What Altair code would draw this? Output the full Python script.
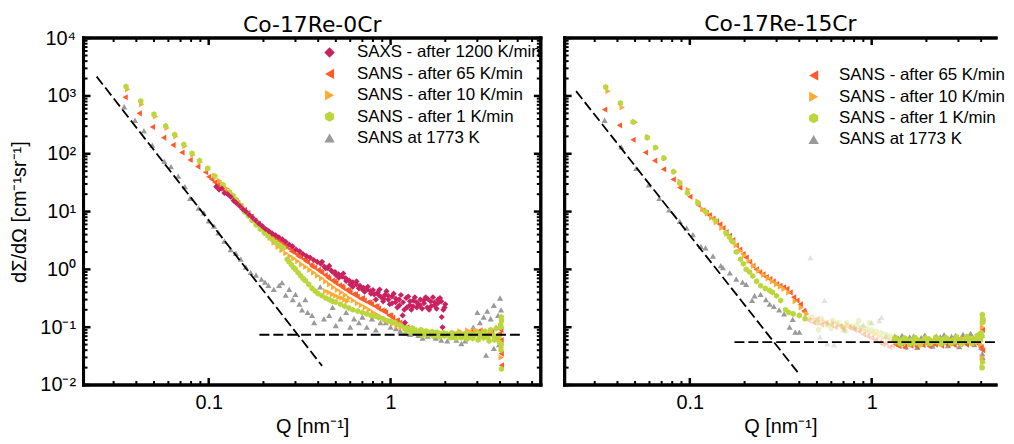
import altair as alt
import pandas as pd

# ---------------- series names, colours, shapes ----------------
SERIES = ["SAXS - after 1200 K/min", "SANS - after 65 K/min", "SANS - after 10 K/min",
          "SANS - after 1 K/min", "SANS at 1773 K"]
COLORS = ["#C9235F", "#FF5B2A", "#FFAA33", "#BCD63E", "#9A9A9A"]
HEXAGON = "M0,-1L0.866,-0.5L0.866,0.5L0,1L-0.866,0.5L-0.866,-0.5Z"
SHAPES = ["diamond", "triangle-left", "triangle-right", HEXAGON, "triangle-up"]

TITLES = ["Co-17Re-0Cr", "Co-17Re-15Cr"]
X_TITLE = "Q [nm⁻¹]"
Y_TITLE = "dΣ/dΩ [cm⁻¹sr⁻¹]"
X_MAJOR = [0.1, 1]
X_MINOR = [0.03, 0.04, 0.05, 0.06, 0.07, 0.08, 0.09, 0.2, 0.3, 0.4, 0.5, 0.6, 0.7, 0.8, 0.9, 2, 3, 4, 5, 6]
Y_MAJOR = [0.01, 0.1, 1, 10, 100, 1000, 10000]
Y_MINOR = [0.02, 0.03, 0.04, 0.05, 0.06, 0.07, 0.08, 0.09,
           0.2, 0.3, 0.4, 0.5, 0.6, 0.7, 0.8, 0.9,
           2, 3, 4, 5, 6, 7, 8, 9,
           20, 30, 40, 50, 60, 70, 80, 90,
           200, 300, 400, 500, 600, 700, 800, 900,
           2000, 3000, 4000, 5000, 6000, 7000, 8000, 9000]
Y_LABELS = ["10⁻²", "10⁻¹", "10⁰", "10¹", "10²", "10³", "10⁴"]
X_DOMAIN_0 = [0.0205, 6.7]
X_DOMAIN_15 = [0.0205, 4.83]
Y_DOMAIN = [0.01, 10000]

# ---------------- Co-17Re-0Cr ----------------
q_saxs_0 = [0.110, 0.114, 0.118, 0.122, 0.127, 0.132, 0.137, 0.142, 0.148, 0.154,
            0.160, 0.167, 0.174, 0.181, 0.189, 0.197, 0.205, 0.214, 0.223, 0.233,
            0.243, 0.254, 0.265, 0.277, 0.289, 0.302, 0.316, 0.330, 0.345, 0.361,
            0.378, 0.395, 0.413, 0.432, 0.452, 0.473, 0.495, 0.518, 0.542, 0.567,
            0.593, 0.620, 0.649, 0.679, 0.710, 0.743, 0.777, 0.813, 0.850, 0.889,
            0.930, 0.973, 1.018, 1.065, 1.114, 1.165, 1.219, 1.275, 1.334, 1.395,
            1.459, 1.526, 1.596, 1.670, 1.747, 1.827, 1.911, 1.999,
            0.83, 0.87, 0.91, 0.95, 0.99, 1.04, 1.09, 1.14, 1.19, 1.25,
            1.30, 1.36, 1.42, 1.49, 1.56, 1.63, 1.71, 1.79, 1.87, 1.95, 1.20, 1.93,
            0.42, 0.46, 0.50, 0.55, 0.60, 0.65, 0.70, 0.75,
            0.44, 0.48, 0.52, 0.57, 0.62, 0.67, 0.72, 0.78, 0.80, 0.86,
            0.92, 0.97, 1.02, 1.07, 1.12, 1.17, 1.23, 1.28, 1.33, 1.39,
            1.45, 1.52, 1.59, 1.66, 1.74, 1.82, 1.90, 1.98]
i_saxs_0 = [27, 24, 25, 21, 20, 18, 15.5, 14, 12.5, 11,
            10, 8.8, 7.9, 7.0, 6.2, 5.6, 5.0, 4.6, 4.2, 3.9,
            3.6, 3.3, 3.0, 2.7, 2.5, 2.2, 2.05, 1.85, 1.7, 1.6,
            1.45, 1.35, 1.25, 1.12, 1.05, 0.95, 0.9, 0.82, 0.75, 0.7,
            0.64, 0.6, 0.55, 0.52, 0.48, 0.45, 0.42, 0.37, 0.4, 0.33,
            0.36, 0.3, 0.34, 0.27, 0.3, 0.16, 0.32, 0.24, 0.29, 0.22,
            0.3, 0.26, 0.31, 0.23, 0.27, 0.3, 0.15, 0.25,
            0.3, 0.45, 0.28, 0.42, 0.25, 0.38, 0.22, 0.36, 0.2, 0.34,
            0.2, 0.33, 0.25, 0.21, 0.33, 0.2, 0.33, 0.21, 0.32, 0.2, 0.12, 0.1,
            1.35, 1.15, 0.8, 0.85, 0.55, 0.62, 0.45, 0.5,
            1.05, 0.9, 0.72, 0.63, 0.5, 0.47, 0.41, 0.38, 0.44, 0.36,
            0.31, 0.35, 0.26, 0.31, 0.24, 0.27, 0.22, 0.28, 0.23, 0.27,
            0.24, 0.29, 0.22, 0.28, 0.24, 0.26, 0.28, 0.22]

q_r65_0 = [0.0347, 0.0415, 0.049, 0.0565, 0.0636, 0.0712, 0.079, 0.087, 0.096,
           0.100, 0.104, 0.108, 0.112, 0.117, 0.122, 0.127, 0.132, 0.138, 0.144,
           0.150, 0.157, 0.164, 0.171, 0.179, 0.187, 0.195, 0.204, 0.213, 0.223,
           0.233, 0.244, 0.255, 0.267, 0.279, 0.292, 0.305, 0.319, 0.334, 0.349,
           0.365, 0.382, 0.400, 0.418, 0.437, 0.457, 0.478, 0.500, 0.523, 0.547,
           0.572, 0.598, 0.626, 0.655, 0.685, 0.716, 0.749, 0.784, 0.820, 0.858,
           0.897, 0.938, 0.981, 1.026, 1.073, 1.122, 1.174,
           1.23, 1.29, 1.35, 1.42, 1.49, 1.56, 1.64, 1.72, 1.81, 1.9,
           2.0, 2.1, 2.2, 2.31, 2.43, 2.55, 2.68, 2.81, 2.95, 3.1,
           3.26, 3.42, 3.6, 3.78, 3.97, 4.05, 4.07, 4.06, 4.04,
           0.26, 0.285, 0.31, 0.34, 0.37, 0.41, 0.45, 0.49, 0.54, 0.59,
           0.64, 0.70, 0.77, 0.84, 0.92, 1.0, 1.09]
i_r65_0 = [950, 500, 290, 190, 141, 105, 78, 60, 48,
           40, 36, 32, 29, 26, 23, 20, 18, 16, 14,
           12.5, 10.7, 9.4, 8.2, 7.0, 6.2, 5.4, 4.8, 4.3, 3.8,
           3.4, 3.1, 2.8, 2.5, 2.25, 2.0, 1.82, 1.65, 1.5, 1.35,
           1.2, 1.08, 0.98, 0.88, 0.8, 0.7, 0.64, 0.58, 0.53, 0.48,
           0.44, 0.4, 0.37, 0.34, 0.31, 0.29, 0.27, 0.25, 0.23, 0.21,
           0.195, 0.18, 0.16, 0.145, 0.13, 0.12, 0.11,
           0.1, 0.092, 0.088, 0.085, 0.082, 0.08, 0.078, 0.08, 0.076, 0.078,
           0.075, 0.077, 0.074, 0.078, 0.072, 0.08, 0.076, 0.085, 0.078, 0.088,
           0.08, 0.075, 0.082, 0.07, 0.078, 0.06, 0.022, 0.035, 0.09,
           2.5, 2.05, 1.7, 1.4, 1.12, 0.92, 0.74, 0.62, 0.51, 0.44,
           0.37, 0.32, 0.27, 0.23, 0.19, 0.16, 0.13]

q_o10_0 = [0.0358, 0.0428, 0.051, 0.059, 0.066, 0.074, 0.082, 0.090, 0.099, 0.108,
           0.115, 0.12, 0.126, 0.132, 0.139, 0.146, 0.153, 0.161, 0.169, 0.178,
           0.187, 0.197, 0.207, 0.218, 0.229, 0.241, 0.253, 0.266, 0.28, 0.294,
           0.309, 0.325, 0.342, 0.36, 0.378, 0.397, 0.418, 0.44, 0.462, 0.486,
           0.511, 0.537, 0.565, 0.594, 0.625, 0.657, 0.691, 0.727, 0.764, 0.804,
           0.845, 0.889, 0.935, 0.983, 1.034, 1.087, 1.143, 1.2,
           0.44, 0.46, 0.48, 0.5, 0.52, 0.54, 0.56, 0.58,
           1.25, 1.31, 1.38, 1.45, 1.53, 1.61, 1.69, 1.78, 1.87, 1.97,
           2.07, 2.18, 2.29, 2.41, 2.53, 2.66, 2.8, 2.94, 3.09, 3.25,
           3.42, 3.59, 3.77, 3.95, 4.05, 4.06, 4.07]
i_o10_0 = [1300, 720, 440, 280, 200, 135, 95, 72, 54, 42,
           34, 30, 25, 21, 17.5, 14.5, 12, 10, 8.4, 7,
           5.9, 5, 4.2, 3.5, 2.9, 2.45, 2.15, 1.9, 1.7, 1.55,
           1.38, 1.22, 1.1, 0.98, 0.88, 0.78, 0.7, 0.62, 0.55, 0.49,
           0.44, 0.4, 0.36, 0.32, 0.29, 0.26, 0.24, 0.22, 0.2, 0.18,
           0.165, 0.15, 0.135, 0.125, 0.115, 0.105, 0.1, 0.095,
           0.42, 0.4, 0.37, 0.35, 0.33, 0.32, 0.3, 0.28,
           0.09, 0.085, 0.083, 0.08, 0.078, 0.076, 0.079, 0.074, 0.077, 0.072,
           0.075, 0.07, 0.078, 0.085, 0.076, 0.088, 0.08, 0.09, 0.082, 0.086,
           0.075, 0.08, 0.07, 0.065, 0.1, 0.03, 0.045]

q_g1_0 = [0.0351, 0.0423, 0.050, 0.058, 0.065, 0.073, 0.081, 0.089, 0.099, 0.108, 0.12,
          0.13, 0.136, 0.142, 0.149, 0.157, 0.165, 0.173, 0.182, 0.192, 0.202,
          0.212, 0.223, 0.234, 0.246, 0.258,
          0.27, 0.277, 0.285, 0.293, 0.30, 0.31, 0.32, 0.33, 0.34, 0.355,
          0.37, 0.385, 0.40, 0.42, 0.44, 0.46, 0.48, 0.5, 0.53, 0.56,
          0.59, 0.62, 0.66, 0.7, 0.74, 0.78, 0.82, 0.86, 0.91, 0.96,
          1.01, 1.06, 1.12, 1.18,
          1.20, 1.24, 1.28, 1.32, 1.37, 1.42, 1.47, 1.52, 1.57, 1.63,
          1.69, 1.75, 1.81, 1.88, 1.95, 2.02, 2.09, 2.17, 2.25, 2.33,
          2.41, 2.50, 2.59, 2.68, 2.78, 2.88, 2.98, 3.09, 3.20, 3.31,
          3.43, 3.55, 3.68, 3.81, 3.94, 4.05,
          1.22, 1.30, 1.40, 1.50, 1.60, 1.72, 1.85, 1.98, 2.13, 2.29,
          2.45, 2.63, 2.83, 3.03, 3.25, 3.48, 3.72, 3.97, 4.06, 4.07,
          4.06, 4.05, 4.07, 4.03]
i_g1_0 = [1450, 815, 480, 303, 215, 145, 102, 76, 56, 41, 29,
          22, 19, 16, 13, 10, 8.5, 7, 5.9, 5, 4.3,
          3.8, 3.3, 2.9, 2.6, 2.35,
          1.5, 1.35, 1.2, 1.08, 1.0, 0.88, 0.78, 0.7, 0.64, 0.55,
          0.47, 0.42, 0.38, 0.35, 0.32, 0.3, 0.28, 0.27, 0.25, 0.23,
          0.215, 0.2, 0.19, 0.18, 0.17, 0.16, 0.155, 0.148, 0.14, 0.13,
          0.125, 0.12, 0.11, 0.105,
          0.1, 0.095, 0.09, 0.097, 0.088, 0.085, 0.09, 0.082, 0.086, 0.08,
          0.084, 0.078, 0.082, 0.076, 0.08, 0.077, 0.074, 0.08, 0.072, 0.078,
          0.075, 0.07, 0.078, 0.068, 0.076, 0.072, 0.08, 0.07, 0.078, 0.085,
          0.068, 0.09, 0.072, 0.095, 0.07, 0.1,
          0.085, 0.08, 0.078, 0.072, 0.075, 0.07, 0.068, 0.07, 0.066, 0.064,
          0.066, 0.062, 0.064, 0.06, 0.065, 0.058, 0.06, 0.055, 0.05, 0.13,
          0.15, 0.04, 0.019, 0.11]

q_hot_0 = [0.0343, 0.0393, 0.0440, 0.0489, 0.057, 0.062, 0.068, 0.074, 0.079, 0.088,
           0.094, 0.1, 0.107, 0.113, 0.122, 0.132, 0.141, 0.15, 0.16, 0.17,
           0.182, 0.195, 0.204, 0.213, 0.228, 0.244, 0.253, 0.265, 0.277, 0.29,
           0.30, 0.315, 0.326, 0.34, 0.35, 0.37, 0.38, 0.41, 0.43, 0.46,
           0.48, 0.50, 0.53, 0.57, 0.6, 0.63, 0.67, 0.7, 0.74, 0.79,
           0.83, 0.88, 0.94, 1.0, 1.07, 1.13, 1.2, 1.28, 1.36, 1.42,
           1.5, 1.6, 1.7, 1.77, 1.9, 2.05, 2.15, 2.3, 2.45, 2.57,
           2.73, 2.85, 3.0, 3.1, 3.25, 3.4, 3.55, 3.7, 3.8, 3.9,
           4.0, 4.05, 3.35, 3.7, 3.95]
i_hot_0 = [650, 380, 250, 141, 74, 60, 41, 27, 17, 11.5,
           9.5, 6.9, 5.6, 4.3, 3.1, 2.2, 1.9, 1.5, 1.1, 0.89,
           0.8, 0.68, 0.6, 0.53, 0.45, 0.53, 0.59, 0.36, 0.45, 0.3,
           0.37, 0.25, 0.2, 0.3, 0.18, 0.16, 0.12, 0.5, 0.14, 0.16,
           0.22, 0.107, 0.14, 0.18, 0.1, 0.14, 0.12, 0.15, 0.1, 0.14,
           0.09, 0.12, 0.12, 0.1, 0.095, 0.086, 0.08, 0.075, 0.085, 0.072,
           0.065, 0.07, 0.075, 0.065, 0.06, 0.058, 0.068, 0.06, 0.052, 0.058,
           0.075, 0.1, 0.18, 0.12, 0.15, 0.19, 0.14, 0.24, 0.1, 0.16,
           0.32, 0.2, 0.033, 0.043, 0.05]

line_id = ["porod", "porod", "background", "background"]
q_lines_0 = [0.0242, 0.42, 0.19, 5.3]
i_lines_0 = [2160, 0.0214, 0.074, 0.074]

# ---------------- Co-17Re-15Cr ----------------
q_r65_15 = [0.034, 0.041, 0.0487, 0.057, 0.064, 0.0717, 0.081, 0.088, 0.1, 0.111,
            0.118, 0.123, 0.128, 0.134, 0.14, 0.146, 0.152, 0.158, 0.165, 0.172,
            0.18, 0.188, 0.196, 0.204, 0.213, 0.222, 0.232, 0.242, 0.252, 0.263,
            0.275, 0.287, 0.3, 0.313, 0.327, 0.341, 0.356, 0.372, 0.388, 0.405,
            0.423,
            0.45, 0.48, 0.5, 0.53, 0.56, 0.6, 0.63, 0.67, 0.7, 0.75,
            0.8, 0.85, 0.9, 0.95, 1.0, 1.05, 1.1, 1.15, 1.2, 1.25, 1.3,
            1.36, 1.41, 1.46, 1.52, 1.58, 1.64, 1.7, 1.77, 1.84, 1.91,
            1.99, 2.07, 2.15, 2.24, 2.33, 2.42, 2.52, 2.62, 2.73, 2.84,
            2.95, 3.07, 3.19, 3.32, 3.45, 3.59, 3.73, 3.88, 4.0, 4.07,
            4.08, 4.06]
i_r65_15 = [580, 310, 175, 105, 76, 54, 36, 26, 18, 13,
            10.5, 9.5, 8.6, 7.6, 6.8, 6.0, 5.2, 4.4, 3.8, 3.2,
            2.6, 2.2, 1.85, 1.6, 1.35, 1.15, 1.0, 0.9, 0.82, 0.74,
            0.68, 0.62, 0.56, 0.52, 0.49, 0.46, 0.4, 0.33, 0.29, 0.25,
            0.19,
            0.13, 0.12, 0.14, 0.11, 0.12, 0.11, 0.1, 0.105, 0.095, 0.1,
            0.09, 0.085, 0.075, 0.07, 0.065, 0.06, 0.055, 0.05, 0.052, 0.045, 0.048,
            0.05, 0.047, 0.052, 0.045, 0.05, 0.048, 0.053, 0.046, 0.051, 0.049,
            0.054, 0.047, 0.052, 0.05, 0.055, 0.048, 0.053, 0.05, 0.056, 0.049,
            0.054, 0.051, 0.057, 0.05, 0.055, 0.052, 0.058, 0.05, 0.045, 0.04,
            0.13, 0.09]

q_o10_15 = [0.0355, 0.0425, 0.0503, 0.0588, 0.0654, 0.0726, 0.0824, 0.0885, 0.098, 0.111,
            0.118, 0.125, 0.132, 0.14, 0.15, 0.16, 0.17, 0.18, 0.19, 0.2,
            0.212, 0.225, 0.24, 0.255, 0.27, 0.285, 0.3, 0.315, 0.33, 0.35,
            0.38, 0.41, 0.44,
            0.46, 0.49, 0.52, 0.55, 0.58, 0.62, 0.66, 0.7, 0.74, 0.78,
            0.83, 0.88, 0.93, 0.98, 1.04, 1.1, 1.16, 1.22, 1.28,
            1.34, 1.39, 1.44, 1.5, 1.56, 1.62, 1.68, 1.75, 1.82, 1.89,
            1.97, 2.05, 2.13, 2.22, 2.31, 2.4, 2.5, 2.6, 2.71, 2.82,
            2.93, 3.05, 3.17, 3.3, 3.43, 3.57, 3.71, 3.86, 3.98, 4.06,
            4.07, 4.08, 4.07]
i_o10_15 = [1210, 630, 350, 197, 126, 84, 49, 33, 24, 15,
            11, 9.3, 7.8, 6.5, 5.2, 4.1, 3.3, 2.6, 2.1, 1.75,
            1.4, 1.15, 0.95, 0.8, 0.7, 0.62, 0.55, 0.5, 0.46, 0.4,
            0.28, 0.22, 0.17,
            0.14, 0.13, 0.12, 0.125, 0.115, 0.12, 0.11, 0.105, 0.11, 0.1,
            0.095, 0.09, 0.085, 0.08, 0.075, 0.07, 0.065, 0.062, 0.058,
            0.06, 0.055, 0.058, 0.052, 0.057, 0.054, 0.059, 0.053, 0.058, 0.055,
            0.06, 0.054, 0.058, 0.056, 0.061, 0.055, 0.059, 0.057, 0.062, 0.055,
            0.06, 0.058, 0.063, 0.056, 0.061, 0.059, 0.064, 0.057, 0.05, 0.03,
            0.02, 0.025, 0.1]

q_g1_15 = [0.0345, 0.0415, 0.0487, 0.0583, 0.0647, 0.072, 0.0814, 0.088, 0.097, 0.111,
           0.122, 0.138, 0.158,
           0.165, 0.172, 0.18, 0.19, 0.197, 0.204, 0.213, 0.222, 0.233, 0.245,
           0.26, 0.275, 0.285, 0.3, 0.316, 0.336, 0.35, 0.37, 0.40, 0.43,
           0.47, 0.5, 0.53, 0.57, 0.61, 0.65, 0.69, 0.73, 0.78, 0.83,
           0.88, 0.94, 1.0, 1.06, 1.13, 1.2, 1.27, 0.51, 0.6, 0.72,
           0.85, 0.97,
           1.33, 1.37, 1.41, 1.45, 1.5, 1.55, 1.6, 1.65, 1.7, 1.76,
           1.82, 1.88, 1.94, 2.0, 2.07, 2.14, 2.21, 2.28, 2.36, 2.44,
           2.52, 2.6, 2.69, 2.78, 2.87, 2.97, 3.07, 3.17, 3.28, 3.39,
           3.5, 3.62, 3.74, 3.86, 3.97, 4.05,
           1.35, 1.43, 1.52, 1.62, 1.73, 1.85, 1.97, 2.1, 2.25, 2.4,
           2.56, 2.73, 2.92, 3.12, 3.33, 3.56, 3.8, 4.0, 4.06, 4.07,
           4.06, 4.07, 4.05]
i_g1_15 = [1420, 750, 355, 190, 128, 84, 49, 31, 21, 14,
           10, 7, 4.3,
           3.6, 3.0, 2.0, 1.5, 1.25, 1.0, 0.9, 0.77, 0.62, 0.52,
           0.47, 0.43, 0.40, 0.35, 0.29, 0.2, 0.18, 0.17, 0.16, 0.14,
           0.15, 0.12, 0.14, 0.11, 0.13, 0.12, 0.1, 0.12, 0.105, 0.11,
           0.1, 0.095, 0.09, 0.085, 0.08, 0.075, 0.07, 0.09, 0.095, 0.085,
           0.13, 0.12,
           0.058, 0.062, 0.056, 0.06, 0.055, 0.061, 0.057, 0.06, 0.054, 0.062,
           0.058, 0.055, 0.06, 0.057, 0.062, 0.055, 0.059, 0.056, 0.062, 0.058,
           0.055, 0.061, 0.057, 0.06, 0.056, 0.063, 0.058, 0.055, 0.062, 0.058,
           0.064, 0.057, 0.062, 0.066, 0.06, 0.07,
           0.066, 0.052, 0.065, 0.051, 0.066, 0.05, 0.065, 0.052, 0.067, 0.051,
           0.066, 0.052, 0.068, 0.051, 0.069, 0.052, 0.072, 0.08, 0.165, 0.14,
           0.12, 0.025, 0.02]

q_hot_15 = [0.034, 0.042, 0.0507, 0.0595, 0.068, 0.077, 0.088, 0.096, 0.104, 0.115,
            0.122, 0.134, 0.148, 0.152, 0.166, 0.18, 0.195, 0.204, 0.22, 0.227,
            0.245, 0.262, 0.275, 0.29, 0.31, 0.33, 0.354, 0.368, 0.38, 0.40,
            0.43, 0.46, 0.52, 0.55, 0.57, 0.62, 0.7, 0.8, 0.9, 1.0,
            1.1, 1.13, 1.2,
            1.34, 1.4, 1.47, 1.54, 1.62, 1.7, 1.78, 1.87, 1.96, 2.06,
            2.16, 2.27, 2.38, 2.5, 2.62, 2.75, 2.89, 3.03, 3.18, 3.34,
            3.5, 3.67, 3.85, 4.0, 4.06, 4.07]
i_hot_15 = [380, 132, 56, 29, 17, 10.7, 6.8, 5.2, 4.0, 2.5,
            2.35, 1.7, 1.16, 1.07, 0.87, 0.68, 0.6, 0.55, 0.29, 0.35,
            0.37, 0.3, 0.25, 0.23, 0.2, 0.17, 0.1, 0.137, 0.082, 0.082,
            0.2, 1.6, 0.068, 0.29, 0.052, 0.05, 0.09, 0.1, 0.11, 0.12,
            0.13, 0.148, 0.07,
            0.07, 0.065, 0.072, 0.046, 0.068, 0.07, 0.045, 0.066, 0.073, 0.064,
            0.047, 0.07, 0.068, 0.074, 0.048, 0.069, 0.072, 0.046, 0.075, 0.07,
            0.078, 0.05, 0.076, 0.045, 0.035, 0.03]

q_lines_15 = [0.0237, 0.397, 0.176, 4.83]
i_lines_15 = [1210, 0.0158, 0.055, 0.055]

FONT = "Liberation Sans"
H = 349


def table(parts):
    rows = []
    for name, qs, ys in parts:
        for q, y in zip(qs, ys):
            rows.append({"series": name, "Q": q, "I": y})
    return pd.DataFrame(rows)


df0 = table([(SERIES[4], q_hot_0, i_hot_0), (SERIES[1], q_r65_0, i_r65_0),
             (SERIES[2], q_o10_0, i_o10_0), (SERIES[3], q_g1_0, i_g1_0),
             (SERIES[0], q_saxs_0, i_saxs_0)])
df15 = table([(SERIES[4], q_hot_15, i_hot_15), (SERIES[1], q_r65_15, i_r65_15),
              (SERIES[2], q_o10_15, i_o10_15), (SERIES[3], q_g1_15, i_g1_15)])
lines0 = pd.DataFrame({"line": line_id, "Q": q_lines_0, "I": i_lines_0})
lines15 = pd.DataFrame({"line": line_id, "Q": q_lines_15, "I": i_lines_15})
xmaj = pd.DataFrame({"v": X_MAJOR})
xmin = pd.DataFrame({"v": X_MINOR})
ymaj = pd.DataFrame({"v": Y_MAJOR})
ymin = pd.DataFrame({"v": Y_MINOR})

Y_LABEL_EXPR = "[" + ",".join("'%s'" % s for s in Y_LABELS) + "][round(log(datum.value)/LN10)+2]"


def panel(df, lines, title, n_first, legend_xy, label_offset, show_y, faded, W, xdom,
          right_border, title_offset):
    xs = alt.Scale(type="log", domain=xdom, nice=False)
    ys = alt.Scale(type="log", domain=Y_DOMAIN, nice=False)
    dom = SERIES[n_first:]
    leg = alt.Legend(title=None, orient="none", legendX=legend_xy[0], legendY=legend_xy[1],
                     labelFont=FONT, labelFontSize=17, labelColor="black", labelLimit=400,
                     symbolSize=110, symbolStrokeWidth=0, symbolOpacity=1, rowPadding=3.5,
                     labelOffset=label_offset, padding=0)
    if faded:
        op = alt.condition("datum.Q > 0.44 && datum.Q < 1.33", alt.value(0.28), alt.value(1.0))
    else:
        op = alt.value(1.0)
    xaxis = alt.Axis(orient="bottom", values=X_MAJOR, labelExpr="datum.value < 0.5 ? '0.1' : '1'",
                     ticks=False, domain=False, grid=False, labelPadding=8, title=X_TITLE,
                     titlePadding=4, labelFont=FONT, labelFontSize=20, labelColor="black",
                     titleFont=FONT, titleFontSize=20, titleFontWeight="normal", titleColor="black")
    if show_y:
        ych = alt.Y("I:Q", scale=ys, axis=alt.Axis(orient="left", values=Y_MAJOR, labelExpr=Y_LABEL_EXPR,
                                                   ticks=False, domain=False, grid=False,
                                                   labelPadding=8, title=Y_TITLE, titlePadding=10,
                                                   labelFont=FONT, labelFontSize=20, labelColor="black",
                                                   titleFont=FONT, titleFontSize=20,
                                                   titleFontWeight="normal", titleColor="black"))
    else:
        ych = alt.Y("I:Q", scale=ys, axis=None)
    pts = alt.Chart(df).mark_point(filled=True, size=38, strokeWidth=0, clip=True).encode(
        x=alt.X("Q:Q", scale=xs, axis=xaxis),
        y=ych,
        color=alt.Color("series:N", scale=alt.Scale(domain=dom, range=COLORS[n_first:]), legend=leg),
        shape=alt.Shape("series:N", scale=alt.Scale(domain=dom, range=SHAPES[n_first:]), legend=leg),
        opacity=op,
    )
    ln = alt.Chart(lines).mark_line(color="black", strokeDash=[10, 4], strokeWidth=1.8).encode(
        x=alt.X("Q:Q", scale=xs, axis=None),
        y=alt.Y("I:Q", scale=ys, axis=None),
        detail="line:N",
    )
    layers = [pts, ln]

    # inward ticks (bottom, top, left and right side)
    for data, length, width in ((xmaj, 7, 2.5), (xmin, 4, 2)):
        layers.append(alt.Chart(data).mark_rule(color="black", strokeWidth=width, clip=True).encode(
            x=alt.X("v:Q", scale=xs, axis=None), y=alt.value(H), y2=alt.value(H - length)))
        layers.append(alt.Chart(data).mark_rule(color="black", strokeWidth=width, clip=True).encode(
            x=alt.X("v:Q", scale=xs, axis=None), y=alt.value(0), y2=alt.value(length)))
    for data, length, width in ((ymaj, 7, 2.5), (ymin, 4, 2)):
        layers.append(alt.Chart(data).mark_rule(color="black", strokeWidth=width).encode(
            y=alt.Y("v:Q", scale=ys, axis=None), x=alt.value(0), x2=alt.value(length)))
        if right_border:
            layers.append(alt.Chart(data).mark_rule(color="black", strokeWidth=width).encode(
                y=alt.Y("v:Q", scale=ys, axis=None), x=alt.value(W), x2=alt.value(W - length)))

    # frame
    frame_style = dict(color="black", strokeWidth=3, strokeCap="square")
    layers.append(alt.Chart(xmaj).mark_rule(**frame_style).encode(
        x=alt.value(0), x2=alt.value(W), y=alt.value(0)))
    layers.append(alt.Chart(xmaj).mark_rule(**frame_style).encode(
        x=alt.value(0), x2=alt.value(W), y=alt.value(H)))
    layers.append(alt.Chart(xmaj).mark_rule(**frame_style).encode(
        x=alt.value(0), y=alt.value(0), y2=alt.value(H)))
    if right_border:
        layers.append(alt.Chart(xmaj).mark_rule(**frame_style).encode(
            x=alt.value(W), y=alt.value(0), y2=alt.value(H)))

    return alt.layer(*layers).resolve_axis(x="independent", y="independent").properties(
        width=W, height=H,
        view=alt.ViewBackground(stroke="transparent", strokeWidth=0),
        title=alt.TitleParams(title, font="DejaVu Sans", fontSize=22, fontWeight="normal",
                              anchor="middle", offset=title_offset, color="black", frame="group"),
    )


left = panel(df0, lines0, TITLES[0], 0, (239, 6), 19, True, False, 460, X_DOMAIN_0, True, -8.5)
right = panel(df15, lines15, TITLES[1], 1, (242, 29), 17, False, True, 434, X_DOMAIN_15, False, 0)

chart = alt.hconcat(left, right, spacing=18).resolve_scale(
    color="independent", shape="independent"
).properties(
    padding={"left": 2, "top": 3, "right": 0, "bottom": 0},
    background="white",
).configure_view(
    stroke="transparent", strokeWidth=0
)

chart.save("out.html", embed_options={"renderer": "svg", "actions": False})
